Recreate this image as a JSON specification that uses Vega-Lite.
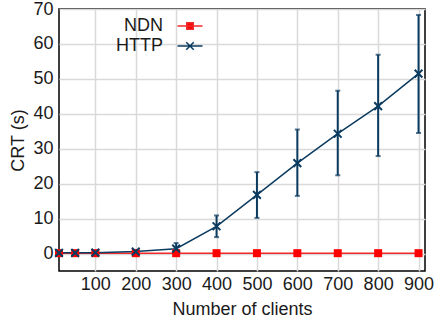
{
  "$schema": "https://vega.github.io/schema/vega-lite/v6.json",
  "width": 366,
  "height": 262,
  "autosize": {"type": "none"},
  "padding": {"left": 59, "top": 9, "right": 9, "bottom": 49},
  "background": "white",
  "config": {
    "font": "Liberation Sans",
    "view": {"stroke": "black", "strokeWidth": 1.5},
    "axis": {
      "labelFont": "Liberation Sans",
      "titleFont": "Liberation Sans",
      "labelFontSize": 18,
      "titleFontSize": 18,
      "titleFontWeight": "normal",
      "labelColor": "#1a1a1a",
      "titleColor": "#1a1a1a",
      "gridColor": "#d9d9d9",
      "gridWidth": 1.5,
      "gridOpacity": 1,
      "domain": false,
      "ticks": false,
      "tickSize": 0
    }
  },
  "data": {
    "values": [
      {"n": 10, "series": "NDN", "crt": 0.1},
      {"n": 50, "series": "NDN", "crt": 0.1},
      {"n": 100, "series": "NDN", "crt": 0.1},
      {"n": 200, "series": "NDN", "crt": 0.1},
      {"n": 300, "series": "NDN", "crt": 0.1},
      {"n": 400, "series": "NDN", "crt": 0.1},
      {"n": 500, "series": "NDN", "crt": 0.1},
      {"n": 600, "series": "NDN", "crt": 0.1},
      {"n": 700, "series": "NDN", "crt": 0.1},
      {"n": 800, "series": "NDN", "crt": 0.1},
      {"n": 900, "series": "NDN", "crt": 0.1},
      {"n": 10, "series": "HTTP", "crt": 0.2, "lo": 0.1, "hi": 0.3},
      {"n": 50, "series": "HTTP", "crt": 0.2, "lo": 0.1, "hi": 0.3},
      {"n": 100, "series": "HTTP", "crt": 0.25, "lo": 0.1, "hi": 0.4},
      {"n": 200, "series": "HTTP", "crt": 0.55, "lo": 0.1, "hi": 1.0},
      {"n": 300, "series": "HTTP", "crt": 1.4, "lo": 0.2, "hi": 3.0},
      {"n": 400, "series": "HTTP", "crt": 7.8, "lo": 4.7, "hi": 10.9},
      {"n": 500, "series": "HTTP", "crt": 16.8, "lo": 10.2, "hi": 23.3},
      {"n": 600, "series": "HTTP", "crt": 25.9, "lo": 16.5, "hi": 35.5},
      {"n": 700, "series": "HTTP", "crt": 34.3, "lo": 22.4, "hi": 46.6},
      {"n": 800, "series": "HTTP", "crt": 42.2, "lo": 27.9, "hi": 56.9},
      {"n": 900, "series": "HTTP", "crt": 51.5, "lo": 34.5, "hi": 68.3}
    ]
  },
  "encoding": {
    "x": {
      "field": "n", "type": "quantitative",
      "scale": {"domain": [10, 916], "nice": false, "zero": false},
      "axis": {"values": [100, 200, 300, 400, 500, 600, 700, 800, 900], "title": "Number of clients", "labelPadding": 4, "titlePadding": 7}
    },
    "y": {
      "field": "crt", "type": "quantitative",
      "scale": {"domain": [-5, 70], "nice": false, "zero": false},
      "axis": {"values": [0, 10, 20, 30, 40, 50, 60, 70], "title": "CRT (s)", "labelPadding": 6, "titlePadding": 5}
    }
  },
  "layer": [
    {
      "transform": [{"filter": "datum.series === 'HTTP'"}],
      "mark": {"type": "rule", "color": "#0c3b60", "strokeWidth": 2},
      "encoding": {"y": {"field": "lo", "type": "quantitative"}, "y2": {"field": "hi"}}
    },
    {
      "transform": [{"filter": "datum.series === 'HTTP'"}],
      "mark": {"type": "tick", "color": "#0c3b60", "size": 5, "thickness": 2, "orient": "horizontal"},
      "encoding": {"y": {"field": "lo", "type": "quantitative"}}
    },
    {
      "transform": [{"filter": "datum.series === 'HTTP'"}],
      "mark": {"type": "tick", "color": "#0c3b60", "size": 5, "thickness": 2, "orient": "horizontal"},
      "encoding": {"y": {"field": "hi", "type": "quantitative"}}
    },
    {
      "mark": {"type": "line", "strokeWidth": 1.5},
      "encoding": {
        "color": {
          "field": "series", "type": "nominal",
          "sort": ["HTTP", "NDN"],
          "scale": {"domain": ["NDN", "HTTP"], "range": ["#f22a2a", "#0c3b60"]},
          "legend": {
            "title": null,
            "orient": "none",
            "legendX": 122,
            "legendY": 8,
            "padding": 0,
            "labelAlign": "right",
            "labelOffset": -36,
            "labelFontSize": 18,
            "labelColor": "#1a1a1a",
            "labelFont": "Liberation Sans",
            "rowPadding": 2,
            "symbolSize": 156,
            "symbolStrokeWidth": 1.5,
            "encode": {
              "symbols": {
                "update": {
                  "shape": {"signal": "datum.value === 'NDN' ? 'M-2,0L2,0M-0.52,-0.52L0.52,-0.52L0.52,0.52L-0.52,0.52Z' : 'M-2,0L2,0M-0.6,-0.6L0.6,0.6M-0.6,0.6L0.6,-0.6'"},
                  "fill": {"signal": "datum.value === 'NDN' ? '#ff0000' : 'transparent'"}
                }
              }
            }
          }
        }
      }
    },
    {
      "transform": [{"filter": "datum.series === 'NDN'"}],
      "mark": {"type": "point", "shape": "square", "filled": true, "color": "#ff0000", "size": 64, "opacity": 1},
      "encoding": {}
    },
    {
      "transform": [{"filter": "datum.series === 'HTTP'"}],
      "mark": {"type": "point", "shape": "M-1,-1L1,1M-1,1L1,-1", "filled": false, "color": "#0c3b60", "strokeWidth": 2, "size": 60, "opacity": 1},
      "encoding": {}
    }
  ]
}
